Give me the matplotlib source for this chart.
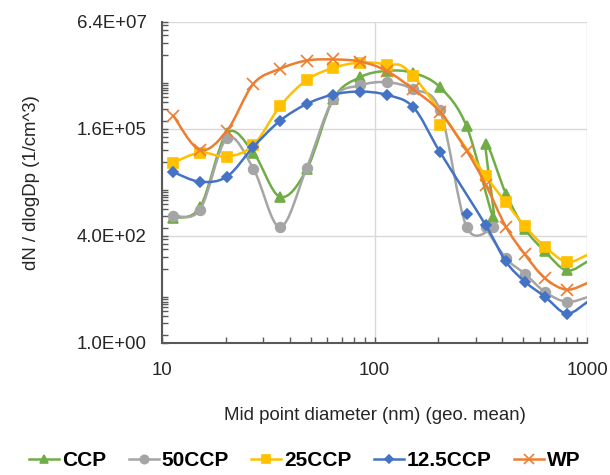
import numpy as np
import matplotlib
matplotlib.use('Agg')
import matplotlib.pyplot as plt
from matplotlib.path import Path
from matplotlib.patches import PathPatch
from matplotlib.lines import Line2D
from matplotlib.ticker import FixedLocator, FuncFormatter, NullFormatter

plt.rcParams['font.family'] = ['Liberation Sans', 'DejaVu Sans']

# mid point diameters (nm): SMPS channels then OPC channels
smps_d = [11.3, 15.1, 20.2, 26.9, 35.9, 48.0, 64.0, 85.5, 114.1, 152.3, 203.3, 271.4, 362.4]
opc_d = [334, 415, 510, 634, 802, 1005]

# dN/dlogDp (1/cm^3)
ccp_smps = [1100, 2000, 1.25e5, 4.27e4, 3590, 1.67e4, 8.6e5, 2.9e6, 4.15e6, 3.7e6, 1.66e6, 1.85e5, 1160]
ccp_opc = [7.1e4, 4300, 600, 168, 58, 96]
ccp50_smps = [1250, 1750, 9.5e4, 1.74e4, 660, 1.84e4, 8.6e5, 1.84e6, 2.2e6, 1.47e6, 4.6e5, 660, 660]
ccp50_opc = [660, 116, 48, 17.5, 10, 13]
ccp25_smps = [2.43e4, 4.27e4, 3.41e4, 6.45e4, 5.7e5, 2.5e6, 4.9e6, 6.6e6, 5.8e6, 3.1e6, 2.0e5]
ccp25_opc = [1.15e4, 2650, 690, 219, 94, 139]
ccp125_smps = [1.43e4, 8350, 1.11e4, 5.86e4, 2.53e5, 6.5e5, 1.1e6, 1.3e6, 1.08e6, 5.4e5, 4.4e4, 1380]
ccp125_opc = [725, 96, 31, 13.3, 5.2, 10]
wp_smps = [3.36e5, 4.95e4, 1.44e5, 2.0e6, 4.65e6, 7.4e6, 7.85e6, 7.0e6, 4.15e6, 1.47e6, 4.2e5, 4.7e4]
wp_opc = [7000, 675, 143, 37.5, 19.8, 28.8]

names = ['CCP', '50CCP', '25CCP', '12.5CCP', 'WP']
smps_vals = [ccp_smps, ccp50_smps, ccp25_smps, ccp125_smps, wp_smps]
opc_vals = [ccp_opc, ccp50_opc, ccp25_opc, ccp125_opc, wp_opc]
# SMPS points that the smoothed line does not pass through
line_skip = [None, None, 10, 11, None]

colors = ['#70AD47', '#A5A5A5', '#FFC000', '#4472C4', '#ED7D31']
markers = ['^', 'o', 's', 'D', 'x']
msizes = [7, 7, 7, 5.5, 8]

y_major = [1, 400, 1.6e5, 6.4e7]
y_minor_subs = [1.54, 3.1, 4.5, 6.1, 7.35, 8.85, 10.1, 11.5, 13.4, 63, 124, 188, 249, 330]


def smooth_path(x, y):
    # Excel-like smoothed line: cubic Bezier through the points (log space)
    pts = np.column_stack([np.log10(x), np.log10(y)])
    n = len(pts)
    verts = [pts[0]]
    codes = [Path.MOVETO]
    for i in range(n - 1):
        p0 = pts[max(i - 1, 0)]
        p1 = pts[i]
        p2 = pts[i + 1]
        p3 = pts[min(i + 2, n - 1)]
        verts += [p1 + (p2 - p0) / 6, p2 - (p3 - p1) / 6, p2]
        codes += [Path.CURVE4] * 3
    return Path(10 ** np.array(verts), codes)


fig = plt.figure(figsize=(6.1, 4.75), dpi=100)
ax = fig.add_axes([0.2656, 0.2779, 0.6967, 0.6758])
ax.set_xscale('log')
ax.set_yscale('log')

handles = []
for i, name in enumerate(names):
    sv = smps_vals[i]
    x = np.array(smps_d[:len(sv)] + opc_d, dtype=float)
    y = np.array(sv + opc_vals[i], dtype=float)
    keep = np.ones(len(x), bool)
    if line_skip[i] is not None:
        keep[line_skip[i]] = False
    z = 3 + i * 0.1
    ax.add_patch(PathPatch(smooth_path(x[keep], y[keep]), fill=False, edgecolor=colors[i],
                           lw=1.8, capstyle='round', joinstyle='round', zorder=z))
    vis = x <= 1000
    ax.plot(x[vis], y[vis], ls='none', marker=markers[i], ms=msizes[i], color=colors[i],
            mew=1.2, zorder=z + 0.05)
    handles.append(Line2D([], [], color=colors[i], lw=1.8, marker=markers[i],
                          ms=msizes[i] - 1, mew=1.2))

ax.set_xlim(10, 1000)
ax.set_ylim(1, 6.4e7)

ax.yaxis.set_major_locator(FixedLocator(y_major))
ax.yaxis.set_minor_locator(FixedLocator([s * b for b in y_major[:-1] for s in y_minor_subs]))
ax.yaxis.set_major_formatter(FuncFormatter(lambda v, p: f'{v:.1E}'))
ax.yaxis.set_minor_formatter(NullFormatter())
ax.xaxis.set_major_formatter(FuncFormatter(lambda v, p: f'{v:g}'))
ax.xaxis.set_minor_formatter(NullFormatter())

ax.grid(which='major', color='#d9d9d9', lw=1)
ax.set_axisbelow(True)
for s in ['top', 'right']:
    ax.spines[s].set_visible(False)
for s in ['left', 'bottom']:
    ax.spines[s].set_color('#595959')
    ax.spines[s].set_linewidth(1.5)
ax.tick_params(which='both', direction='in', length=4, width=1, color='#595959',
               labelsize=13.4, labelcolor='#262626', pad=11)
ax.tick_params(axis='x', pad=14)

ax.set_xlabel('Mid point diameter (nm) (geo. mean)', fontsize=13.4, color='#262626')
ax.xaxis.set_label_coords(0.5, -0.2)
ax.set_ylabel('dN / dlogDp (1/cm^3)', fontsize=13.4, color='#262626')
ax.yaxis.set_label_coords(-0.287, 0.5)

fig.legend(handles, names, loc='lower center', bbox_to_anchor=(0.5, -0.03), ncol=5,
           frameon=False, prop={'weight': 'bold', 'size': 15}, handlelength=1.45,
           handletextpad=0.15, columnspacing=1.05, numpoints=1)

fig.savefig('out.png', dpi=100)
